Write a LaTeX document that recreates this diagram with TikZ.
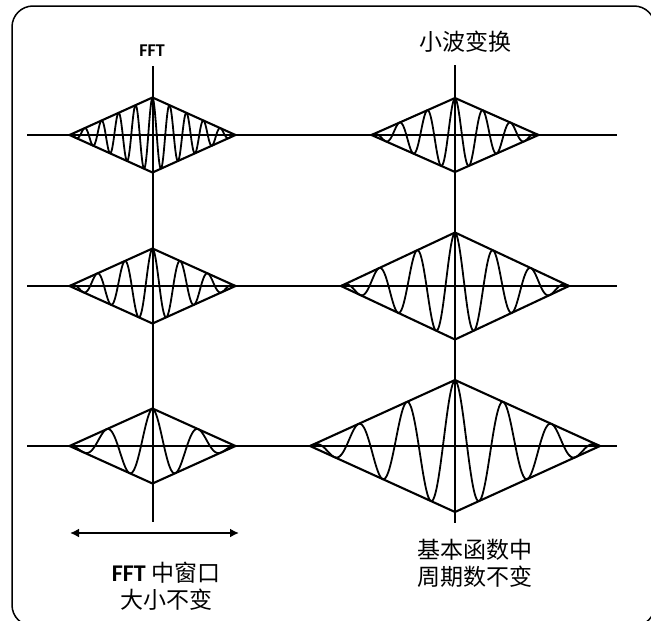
\documentclass[tikz,border=0pt]{standalone}
\usepackage{fontspec}
\setmainfont{Noto Sans CJK SC}
\newfontfamily\latinb{Carlito}
\usetikzlibrary{arrows.meta}
\tikzset{
  axis/.style={line width=2pt},
  diam/.style={line width=2.1pt, line join=miter},
  wave/.style={line width=1.8pt, line join=round},
  frame/.style={line width=1.5pt, rounded corners=21pt},
  lbl/.style={inner sep=0pt, font=\fontsize{23}{27}\selectfont, align=center},
  dblarrow/.style={line width=2pt, {Latex[length=9pt,width=9pt]}-{Latex[length=9pt,width=9pt]}}
}
% #1 name, #2 cx, #3 cy, #4 half width, #5 half height, #6 period
\newcommand\wavediamond[6]{%
  \coordinate (#1-l) at ({#2-#4},#3);
  \coordinate (#1-r) at ({#2+#4},#3);
  \coordinate (#1-t) at (#2,{#3-#5});
  \coordinate (#1-b) at (#2,{#3+#5});
  \draw[diam] (#1-l) -- (#1-t) -- (#1-r) -- (#1-b) -- cycle;
  \draw[wave] plot[domain=-#4:#4, samples=300] ({#2+\x},{#3-#5*(1-abs(\x)/#4)*cos(\x/#6*360)});
}
\begin{document}
\begin{tikzpicture}[x=1pt,y=-1pt]
\useasboundingbox (0,0) rectangle (651,621);
\clip (0,0) rectangle (651,621);
\fill[white] (0,0) rectangle (651,621);
\draw[frame] (12,6) rectangle (655,626);

% row lines
\coordinate (r1a) at (27,135);  \coordinate (r1b) at (617,135);
\coordinate (r2a) at (27,286);  \coordinate (r2b) at (617,286);
\coordinate (r3a) at (27,446);  \coordinate (r3b) at (617,446);
\draw[axis] (r1a) -- (r1b);
\draw[axis] (r2a) -- (r2b);
\draw[axis] (r3a) -- (r3b);

% column lines
\coordinate (c1a) at (152.5,66); \coordinate (c1b) at (152.5,522);
\coordinate (c2a) at (455,65);   \coordinate (c2b) at (455,523);
\draw[axis] (c1a) -- (c1b);
\draw[axis] (c2a) -- (c2b);

% diamonds: FFT (fixed window)
\wavediamond{f1}{152.5}{135}{83}{37.5}{17}
\wavediamond{f2}{152.5}{286}{83}{37.5}{27.7}
\wavediamond{f3}{152.5}{446}{83}{37.5}{46}
% diamonds: wavelet (scaled)
\wavediamond{w1}{455}{135}{83.5}{37}{27.8}
\wavediamond{w2}{455}{286}{114}{53.5}{38}
\wavediamond{w3}{455}{446}{145}{66}{48.3}

% labels
\node[inner sep=0pt, font=\latinb\bfseries\fontsize{18}{20}\selectfont] (tfft) at (152,51) {FFT};
\node[lbl] (twav) at (465,42) {小波变换};

% arrow
\coordinate (aL) at (70,533);
\coordinate (aR) at (239,533);
\draw[dblarrow] (aL) -- (aR);

\node[lbl, anchor=north] (tleft) at (166,562) {{\latinb\bfseries\fontsize{24}{27}\selectfont FFT} 中窗口\\大小不变};
\node[lbl, anchor=north] (tright) at (475,539) {基本函数中\\周期数不变};
\end{tikzpicture}
\end{document}
